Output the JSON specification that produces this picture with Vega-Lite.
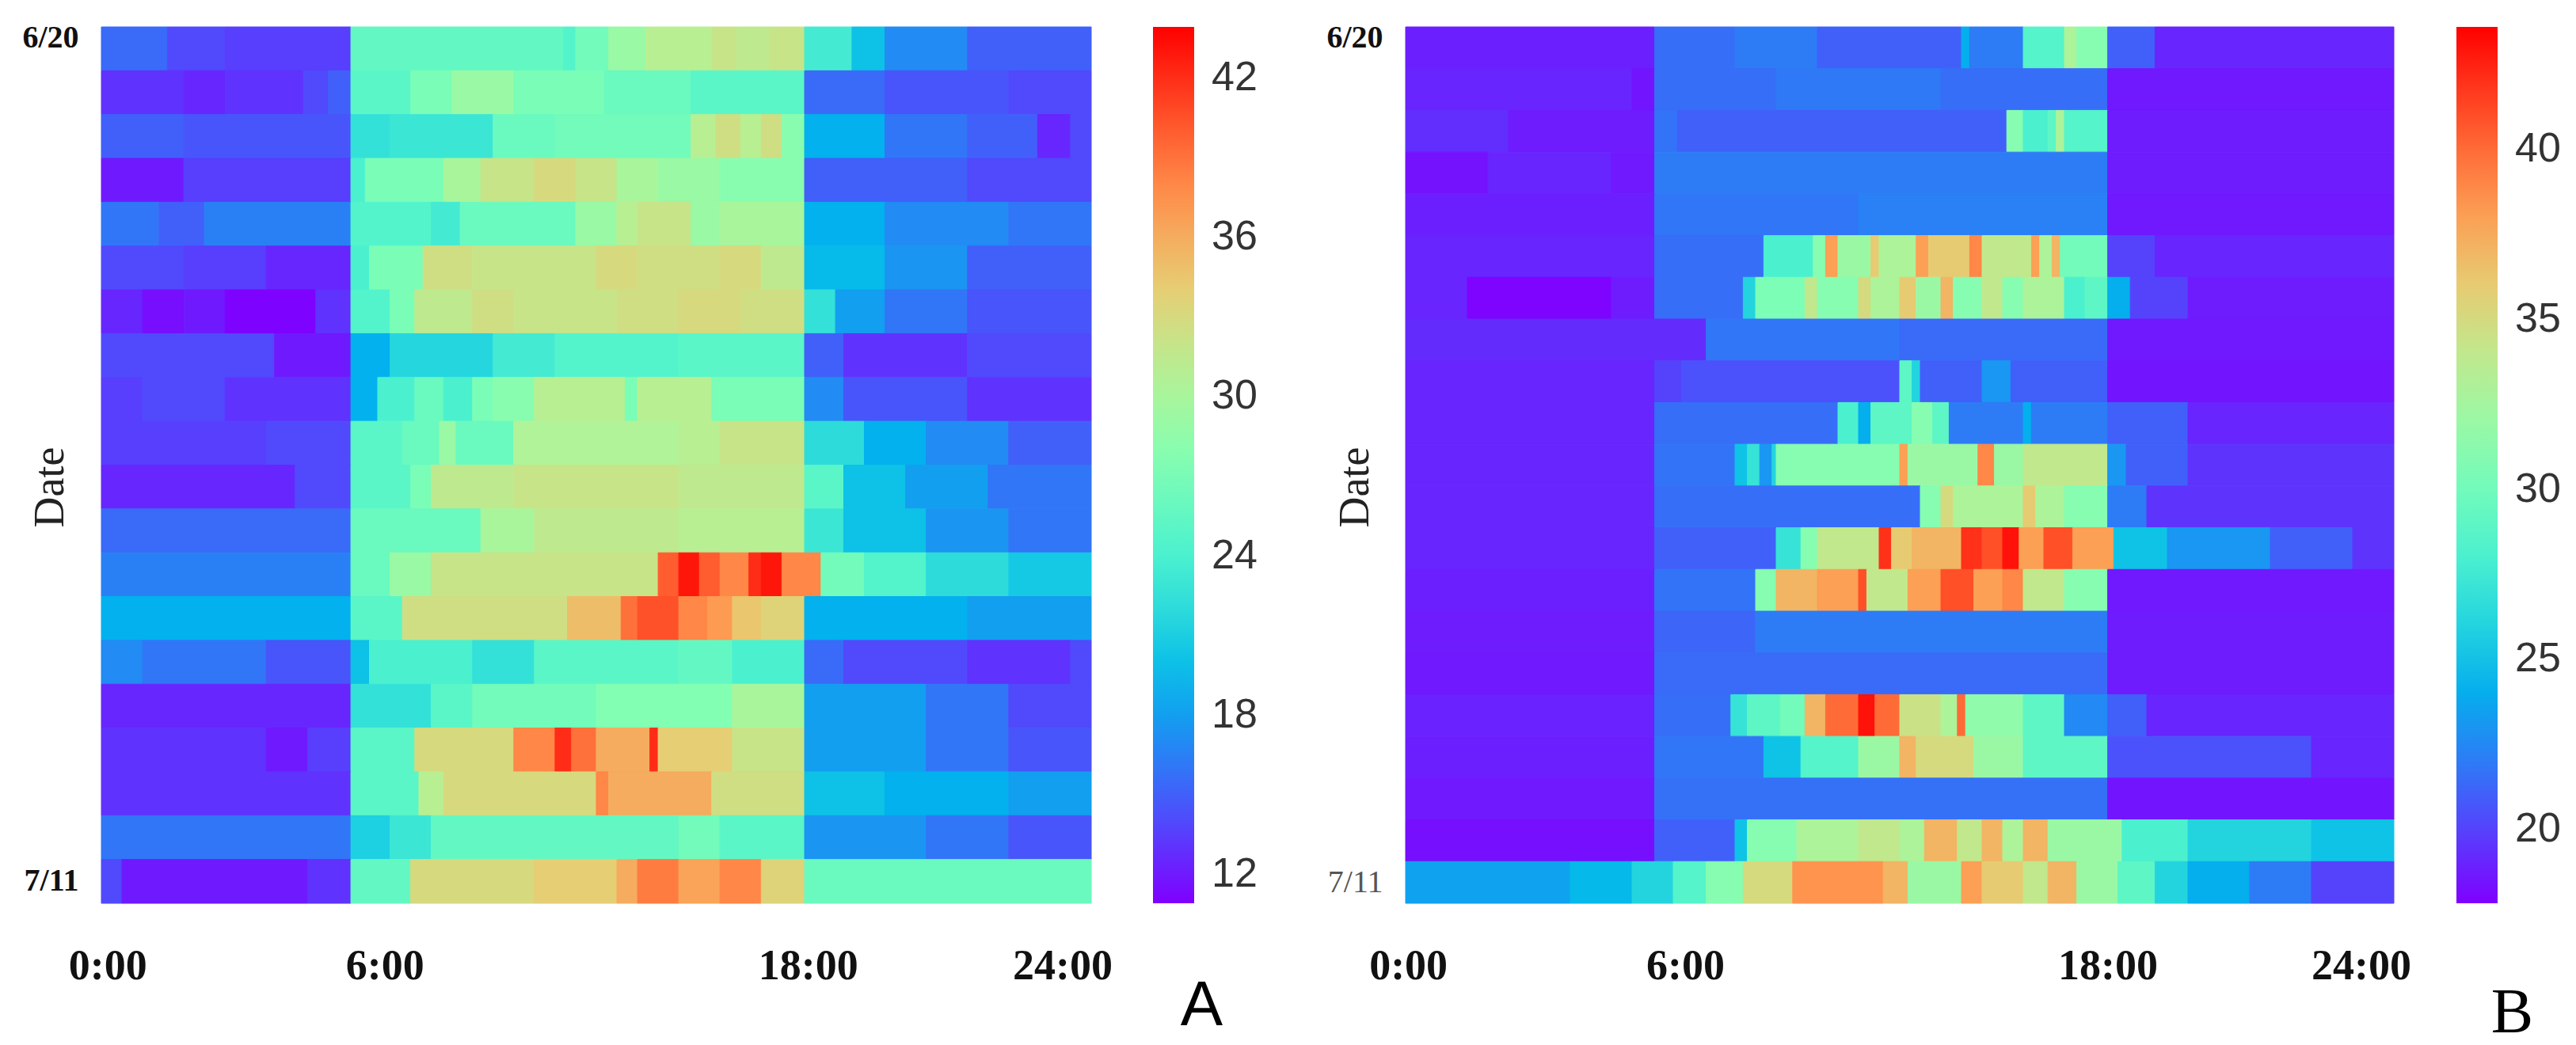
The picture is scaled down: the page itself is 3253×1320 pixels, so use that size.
{"$schema":"https://vega.github.io/schema/vega-lite/v6.json","background":"white","padding":{"left":27,"top":27,"right":0,"bottom":0},"spacing":86,"resolve":{"scale":{"color":"independent","x":"independent","y":"independent"}},"config":{"view":{"stroke":null}},"hconcat":[{"width":1250,"height":1107,"title":{"text":"A","orient":"bottom","anchor":"end","frame":"group","font":"Liberation Sans","fontSize":80,"fontWeight":"normal","dx":166,"offset":-15},"data":{"values":[
{"d":1,"s":0,"e":1.6,"t":15.5},{"d":1,"s":1.6,"e":3,"t":14},{"d":1,"s":3,"e":6.05,"t":13.5},{"d":1,"s":6.05,"e":11.2,"t":25.5},{"d":1,"s":11.2,"e":11.5,"t":24.5},{"d":1,"s":11.5,"e":12.3,"t":26.5},{"d":1,"s":12.3,"e":13.2,"t":29},{"d":1,"s":13.2,"e":14.8,"t":31},{"d":1,"s":14.8,"e":15.4,"t":32},{"d":1,"s":15.4,"e":16.2,"t":31.5},{"d":1,"s":16.2,"e":17.05,"t":32},{"d":1,"s":17.05,"e":18.2,"t":23.5},{"d":1,"s":18.2,"e":19,"t":20},{"d":1,"s":19,"e":21,"t":17},{"d":1,"s":21,"e":24,"t":15},
{"d":2,"s":0,"e":2,"t":13},{"d":2,"s":2,"e":3,"t":12.5},{"d":2,"s":3,"e":4.9,"t":13},{"d":2,"s":4.9,"e":5.5,"t":14},{"d":2,"s":5.5,"e":6.05,"t":15},{"d":2,"s":6.05,"e":7.5,"t":25},{"d":2,"s":7.5,"e":8.5,"t":27},{"d":2,"s":8.5,"e":10,"t":29},{"d":2,"s":10,"e":12.2,"t":27},{"d":2,"s":12.2,"e":14.3,"t":26},{"d":2,"s":14.3,"e":17.05,"t":25},{"d":2,"s":17.05,"e":19,"t":15.5},{"d":2,"s":19,"e":22,"t":14.5},{"d":2,"s":22,"e":24,"t":14},
{"d":3,"s":0,"e":2,"t":15},{"d":3,"s":2,"e":6.05,"t":14.5},{"d":3,"s":6.05,"e":7,"t":22.5},{"d":3,"s":7,"e":9.5,"t":23},{"d":3,"s":9.5,"e":11,"t":26},{"d":3,"s":11,"e":14.3,"t":26.5},{"d":3,"s":14.3,"e":14.9,"t":31},{"d":3,"s":14.9,"e":15.5,"t":32.5},{"d":3,"s":15.5,"e":16,"t":31},{"d":3,"s":16,"e":16.5,"t":32.5},{"d":3,"s":16.5,"e":17.05,"t":28},{"d":3,"s":17.05,"e":19,"t":19},{"d":3,"s":19,"e":21,"t":16},{"d":3,"s":21,"e":22.7,"t":15},{"d":3,"s":22.7,"e":23.5,"t":12.5},{"d":3,"s":23.5,"e":24,"t":14},
{"d":4,"s":0,"e":2,"t":12},{"d":4,"s":2,"e":6.05,"t":13.5},{"d":4,"s":6.05,"e":6.4,"t":24},{"d":4,"s":6.4,"e":8.3,"t":27},{"d":4,"s":8.3,"e":9.2,"t":30},{"d":4,"s":9.2,"e":10.5,"t":32},{"d":4,"s":10.5,"e":11.5,"t":33},{"d":4,"s":11.5,"e":12.5,"t":32},{"d":4,"s":12.5,"e":13.5,"t":30},{"d":4,"s":13.5,"e":15,"t":29},{"d":4,"s":15,"e":17.05,"t":28},{"d":4,"s":17.05,"e":21,"t":15},{"d":4,"s":21,"e":24,"t":14},
{"d":5,"s":0,"e":1.4,"t":16},{"d":5,"s":1.4,"e":2.5,"t":15},{"d":5,"s":2.5,"e":6.05,"t":16.5},{"d":5,"s":6.05,"e":8,"t":24.5},{"d":5,"s":8,"e":8.7,"t":23.5},{"d":5,"s":8.7,"e":11.5,"t":26},{"d":5,"s":11.5,"e":12.5,"t":29},{"d":5,"s":12.5,"e":13,"t":31},{"d":5,"s":13,"e":14.3,"t":32},{"d":5,"s":14.3,"e":15,"t":29},{"d":5,"s":15,"e":17.05,"t":30},{"d":5,"s":17.05,"e":19,"t":19},{"d":5,"s":19,"e":22,"t":17},{"d":5,"s":22,"e":24,"t":16},
{"d":6,"s":0,"e":2,"t":14},{"d":6,"s":2,"e":4,"t":13.5},{"d":6,"s":4,"e":6.05,"t":12.5},{"d":6,"s":6.05,"e":6.5,"t":24},{"d":6,"s":6.5,"e":7.8,"t":27},{"d":6,"s":7.8,"e":9,"t":32.5},{"d":6,"s":9,"e":12,"t":32},{"d":6,"s":12,"e":13,"t":33},{"d":6,"s":13,"e":15,"t":32.5},{"d":6,"s":15,"e":16,"t":33},{"d":6,"s":16,"e":17.05,"t":31.5},{"d":6,"s":17.05,"e":19,"t":19.5},{"d":6,"s":19,"e":21,"t":17.5},{"d":6,"s":21,"e":24,"t":15},
{"d":7,"s":0,"e":1,"t":12.5},{"d":7,"s":1,"e":2,"t":11.5},{"d":7,"s":2,"e":3,"t":12},{"d":7,"s":3,"e":5.2,"t":11},{"d":7,"s":5.2,"e":6.05,"t":13},{"d":7,"s":6.05,"e":7,"t":24.5},{"d":7,"s":7,"e":7.6,"t":27},{"d":7,"s":7.6,"e":9,"t":31.5},{"d":7,"s":9,"e":10,"t":32.5},{"d":7,"s":10,"e":12.5,"t":32},{"d":7,"s":12.5,"e":14,"t":32.5},{"d":7,"s":14,"e":15.5,"t":33},{"d":7,"s":15.5,"e":17.05,"t":32.5},{"d":7,"s":17.05,"e":17.8,"t":22.5},{"d":7,"s":17.8,"e":19,"t":18},{"d":7,"s":19,"e":21,"t":16},{"d":7,"s":21,"e":24,"t":14.5},
{"d":8,"s":0,"e":4.2,"t":14},{"d":8,"s":4.2,"e":6.05,"t":12},{"d":8,"s":6.05,"e":7,"t":19},{"d":8,"s":7,"e":9.5,"t":21.5},{"d":8,"s":9.5,"e":11,"t":23.5},{"d":8,"s":11,"e":14,"t":24.5},{"d":8,"s":14,"e":17.05,"t":25},{"d":8,"s":17.05,"e":18,"t":15},{"d":8,"s":18,"e":21,"t":13},{"d":8,"s":21,"e":24,"t":14},
{"d":9,"s":0,"e":1,"t":13.5},{"d":9,"s":1,"e":3,"t":14},{"d":9,"s":3,"e":6.05,"t":13},{"d":9,"s":6.05,"e":6.7,"t":19},{"d":9,"s":6.7,"e":7.6,"t":24},{"d":9,"s":7.6,"e":8.3,"t":26},{"d":9,"s":8.3,"e":9,"t":24},{"d":9,"s":9,"e":9.5,"t":27},{"d":9,"s":9.5,"e":10.5,"t":28},{"d":9,"s":10.5,"e":12.7,"t":31},{"d":9,"s":12.7,"e":13,"t":27},{"d":9,"s":13,"e":14.8,"t":31},{"d":9,"s":14.8,"e":17.05,"t":27},{"d":9,"s":17.05,"e":18,"t":17},{"d":9,"s":18,"e":21,"t":14.5},{"d":9,"s":21,"e":24,"t":13},
{"d":10,"s":0,"e":4,"t":13.5},{"d":10,"s":4,"e":6.05,"t":14},{"d":10,"s":6.05,"e":7.3,"t":25},{"d":10,"s":7.3,"e":8.2,"t":26},{"d":10,"s":8.2,"e":8.6,"t":29},{"d":10,"s":8.6,"e":10,"t":26},{"d":10,"s":10,"e":14,"t":30.5},{"d":10,"s":14,"e":15,"t":31},{"d":10,"s":15,"e":17.05,"t":32},{"d":10,"s":17.05,"e":18.5,"t":22},{"d":10,"s":18.5,"e":20,"t":19},{"d":10,"s":20,"e":22,"t":17},{"d":10,"s":22,"e":24,"t":15},
{"d":11,"s":0,"e":4.7,"t":12.5},{"d":11,"s":4.7,"e":6.05,"t":14},{"d":11,"s":6.05,"e":7.5,"t":25},{"d":11,"s":7.5,"e":8,"t":27},{"d":11,"s":8,"e":10,"t":31.5},{"d":11,"s":10,"e":14,"t":32},{"d":11,"s":14,"e":17.05,"t":31.5},{"d":11,"s":17.05,"e":18,"t":25},{"d":11,"s":18,"e":19.5,"t":20},{"d":11,"s":19.5,"e":21.5,"t":18},{"d":11,"s":21.5,"e":24,"t":16},
{"d":12,"s":0,"e":6.05,"t":15.5},{"d":12,"s":6.05,"e":9.2,"t":26},{"d":12,"s":9.2,"e":10.5,"t":30},{"d":12,"s":10.5,"e":14,"t":31.5},{"d":12,"s":14,"e":17.05,"t":31},{"d":12,"s":17.05,"e":18,"t":23},{"d":12,"s":18,"e":20,"t":20},{"d":12,"s":20,"e":22,"t":17.5},{"d":12,"s":22,"e":24,"t":16},
{"d":13,"s":0,"e":6.05,"t":16.5},{"d":13,"s":6.05,"e":7,"t":26},{"d":13,"s":7,"e":8,"t":29},{"d":13,"s":8,"e":13.5,"t":32},{"d":13,"s":13.5,"e":14,"t":40},{"d":13,"s":14,"e":14.5,"t":43},{"d":13,"s":14.5,"e":15,"t":40},{"d":13,"s":15,"e":15.7,"t":38},{"d":13,"s":15.7,"e":16,"t":42},{"d":13,"s":16,"e":16.5,"t":43},{"d":13,"s":16.5,"e":17.45,"t":38},{"d":13,"s":17.45,"e":18.5,"t":26.5},{"d":13,"s":18.5,"e":20,"t":24.5},{"d":13,"s":20,"e":22,"t":22},{"d":13,"s":22,"e":24,"t":20.5},
{"d":14,"s":0,"e":6.05,"t":19},{"d":14,"s":6.05,"e":7.3,"t":25},{"d":14,"s":7.3,"e":11.3,"t":32.5},{"d":14,"s":11.3,"e":12.6,"t":35},{"d":14,"s":12.6,"e":13,"t":39},{"d":14,"s":13,"e":14,"t":40.5},{"d":14,"s":14,"e":14.7,"t":38},{"d":14,"s":14.7,"e":15.3,"t":37},{"d":14,"s":15.3,"e":16,"t":34.5},{"d":14,"s":16,"e":17.05,"t":33.5},{"d":14,"s":17.05,"e":21,"t":19},{"d":14,"s":21,"e":24,"t":18},
{"d":15,"s":0,"e":1,"t":17},{"d":15,"s":1,"e":4,"t":16},{"d":15,"s":4,"e":6.05,"t":14.5},{"d":15,"s":6.05,"e":6.5,"t":20},{"d":15,"s":6.5,"e":9,"t":24},{"d":15,"s":9,"e":10.5,"t":22.5},{"d":15,"s":10.5,"e":14,"t":25},{"d":15,"s":14,"e":15.3,"t":25.5},{"d":15,"s":15.3,"e":17.05,"t":24},{"d":15,"s":17.05,"e":18,"t":15.5},{"d":15,"s":18,"e":21,"t":14},{"d":15,"s":21,"e":23.5,"t":13},{"d":15,"s":23.5,"e":24,"t":14},
{"d":16,"s":0,"e":6.05,"t":12.5},{"d":16,"s":6.05,"e":8,"t":22.5},{"d":16,"s":8,"e":9,"t":25},{"d":16,"s":9,"e":12,"t":26.5},{"d":16,"s":12,"e":15.3,"t":27.5},{"d":16,"s":15.3,"e":17.05,"t":30},{"d":16,"s":17.05,"e":20,"t":18},{"d":16,"s":20,"e":22,"t":16},{"d":16,"s":22,"e":24,"t":14},
{"d":17,"s":0,"e":4,"t":13},{"d":17,"s":4,"e":5,"t":12},{"d":17,"s":5,"e":6.05,"t":13.5},{"d":17,"s":6.05,"e":7.6,"t":25},{"d":17,"s":7.6,"e":10,"t":33},{"d":17,"s":10,"e":11,"t":38},{"d":17,"s":11,"e":11.4,"t":42},{"d":17,"s":11.4,"e":12,"t":39},{"d":17,"s":12,"e":13.3,"t":36},{"d":17,"s":13.3,"e":13.5,"t":42},{"d":17,"s":13.5,"e":15.3,"t":34},{"d":17,"s":15.3,"e":17.05,"t":32},{"d":17,"s":17.05,"e":20,"t":18},{"d":17,"s":20,"e":22,"t":16},{"d":17,"s":22,"e":24,"t":14.5},
{"d":18,"s":0,"e":6.05,"t":13},{"d":18,"s":6.05,"e":7.7,"t":25},{"d":18,"s":7.7,"e":8.3,"t":31},{"d":18,"s":8.3,"e":12,"t":33},{"d":18,"s":12,"e":12.3,"t":38},{"d":18,"s":12.3,"e":14.8,"t":36},{"d":18,"s":14.8,"e":17.05,"t":32.5},{"d":18,"s":17.05,"e":19,"t":20},{"d":18,"s":19,"e":22,"t":19},{"d":18,"s":22,"e":24,"t":18},
{"d":19,"s":0,"e":6.05,"t":16},{"d":19,"s":6.05,"e":7,"t":21},{"d":19,"s":7,"e":8,"t":23},{"d":19,"s":8,"e":14,"t":25.5},{"d":19,"s":14,"e":15,"t":26.5},{"d":19,"s":15,"e":17.05,"t":25},{"d":19,"s":17.05,"e":20,"t":17.5},{"d":19,"s":20,"e":22,"t":16},{"d":19,"s":22,"e":24,"t":14.5},
{"d":20,"s":0,"e":0.5,"t":14},{"d":20,"s":0.5,"e":5,"t":12},{"d":20,"s":5,"e":6.05,"t":13},{"d":20,"s":6.05,"e":7.5,"t":25.5},{"d":20,"s":7.5,"e":10.5,"t":33},{"d":20,"s":10.5,"e":12.5,"t":34},{"d":20,"s":12.5,"e":13,"t":36},{"d":20,"s":13,"e":14,"t":38.5},{"d":20,"s":14,"e":15,"t":36.5},{"d":20,"s":15,"e":16,"t":38},{"d":20,"s":16,"e":17.05,"t":33.5},{"d":20,"s":17.05,"e":24,"t":26}
]},"mark":{"type":"rect","strokeWidth":1,"stroke":{"expr":"scale('concat_0_color',datum.t)"}},"encoding":{"x":{"field":"s","type":"quantitative","scale":{"domain":[0,24],"nice":false,"zero":false},"axis":{"title":null,"values":[0.15,6.87,17.13,23.3],"labelExpr":"datum.value<1?'0:00':datum.value<10?'6:00':datum.value<20?'18:00':'24:00'","labelFont":"Liberation Serif","labelFontWeight":"bold","labelFontSize":54,"labelPadding":52,"labelColor":"#111","domain":false,"ticks":false,"grid":false,"labelFlush":false,"labelBound":false,"labelOverlap":false}},"x2":{"field":"e"},"y":{"field":"d","type":"ordinal","scale":{"domain":[1,2,3,4,5,6,7,8,9,10,11,12,13,14,15,16,17,18,19,20],"paddingInner":0,"paddingOuter":0},"axis":{"title":"Date","titleFont":"Liberation Serif","titleFontWeight":"normal","titleFontSize":54,"titleColor":"#222","titleX":-38,"titleY":581,"values":[1,20],"labelExpr":"datum.value==1?'6/20':'7/11'","labelFont":"Liberation Serif","labelFontWeight":"bold","labelFontSize":40,"labelColor":"#111","labelPadding":29,"labelAngle":0,"labelOffset":{"condition":{"test":"datum.value==1","value":-14},"value":0},"domain":false,"ticks":false,"grid":false}},"color":{"field":"t","type":"quantitative","scale":{"interpolate":"rgb","domain":[10.9,14.2,17.5,19.15,20.8,24.1,27.4,30.7,34,37.3,40.6,43.9],"range":["#8000ff","#4d4ffc","#1a96f2","#00b4ec","#1acee3","#4df2ce","#80ffb4","#b3f296","#e6ce74","#ff964f","#ff4f28","#ff0000"]},"legend":{"title":null,"orient":"none","legendX":1328,"legendY":0,"direction":"vertical","type":"gradient","gradientLength":1107,"gradientThickness":52,"values":[12,18,24,30,36,42],"labelFont":"Liberation Sans","labelFontSize":52,"labelColor":"#333","labelOffset":22,"labelOverlap":false}}}},{"width":1248,"height":1107,"title":{"text":"B","orient":"bottom","anchor":"end","frame":"group","font":"Liberation Serif","fontSize":80,"fontWeight":"normal","dx":176,"offset":-6},"data":{"values":[
{"d":1,"s":0,"e":6.05,"t":18.8},{"d":1,"s":6.05,"e":8,"t":21.5},{"d":1,"s":8,"e":10,"t":22},{"d":1,"s":10,"e":13.5,"t":21},{"d":1,"s":13.5,"e":13.7,"t":24},{"d":1,"s":13.7,"e":15,"t":22},{"d":1,"s":15,"e":16,"t":28.5},{"d":1,"s":16,"e":16.3,"t":33},{"d":1,"s":16.3,"e":17.05,"t":31},{"d":1,"s":17.05,"e":18.2,"t":21},{"d":1,"s":18.2,"e":24,"t":19},
{"d":2,"s":0,"e":5.5,"t":19},{"d":2,"s":5.5,"e":6.05,"t":18.5},{"d":2,"s":6.05,"e":9,"t":21.5},{"d":2,"s":9,"e":13,"t":21.9},{"d":2,"s":13,"e":17.05,"t":21.5},{"d":2,"s":17.05,"e":24,"t":18.6},
{"d":3,"s":0,"e":2.5,"t":19.3},{"d":3,"s":2.5,"e":6.05,"t":18.7},{"d":3,"s":6.05,"e":6.6,"t":21.7},{"d":3,"s":6.6,"e":14.6,"t":21},{"d":3,"s":14.6,"e":15,"t":31},{"d":3,"s":15,"e":15.6,"t":28},{"d":3,"s":15.6,"e":15.8,"t":29},{"d":3,"s":15.8,"e":16,"t":33},{"d":3,"s":16,"e":17.05,"t":28.5},{"d":3,"s":17.05,"e":24,"t":18.7},
{"d":4,"s":0,"e":2,"t":18.4},{"d":4,"s":2,"e":5,"t":19},{"d":4,"s":5,"e":6.05,"t":18.6},{"d":4,"s":6.05,"e":17.05,"t":22},{"d":4,"s":17.05,"e":24,"t":18.7},
{"d":5,"s":0,"e":6.05,"t":18.8},{"d":5,"s":6.05,"e":11,"t":21.8},{"d":5,"s":11,"e":17.05,"t":22.2},{"d":5,"s":17.05,"e":24,"t":18.6},
{"d":6,"s":0,"e":6.05,"t":19},{"d":6,"s":6.05,"e":8.7,"t":21.5},{"d":6,"s":8.7,"e":9.9,"t":28},{"d":6,"s":9.9,"e":10.2,"t":31},{"d":6,"s":10.2,"e":10.5,"t":38},{"d":6,"s":10.5,"e":11.3,"t":32},{"d":6,"s":11.3,"e":11.5,"t":36},{"d":6,"s":11.5,"e":12.4,"t":33},{"d":6,"s":12.4,"e":12.7,"t":38},{"d":6,"s":12.7,"e":13.7,"t":36},{"d":6,"s":13.7,"e":14,"t":39},{"d":6,"s":14,"e":15.2,"t":34},{"d":6,"s":15.2,"e":15.4,"t":38},{"d":6,"s":15.4,"e":15.7,"t":33},{"d":6,"s":15.7,"e":15.9,"t":37},{"d":6,"s":15.9,"e":17.05,"t":30},{"d":6,"s":17.05,"e":18.2,"t":20},{"d":6,"s":18.2,"e":24,"t":19},
{"d":7,"s":0,"e":1.5,"t":19},{"d":7,"s":1.5,"e":5,"t":17.9},{"d":7,"s":5,"e":6.05,"t":18.7},{"d":7,"s":6.05,"e":8.2,"t":21.5},{"d":7,"s":8.2,"e":8.5,"t":26},{"d":7,"s":8.5,"e":9.7,"t":30.5},{"d":7,"s":9.7,"e":10,"t":34},{"d":7,"s":10,"e":11,"t":31},{"d":7,"s":11,"e":11.3,"t":35},{"d":7,"s":11.3,"e":12,"t":33},{"d":7,"s":12,"e":12.4,"t":36},{"d":7,"s":12.4,"e":13,"t":32},{"d":7,"s":13,"e":13.3,"t":37},{"d":7,"s":13.3,"e":14,"t":31},{"d":7,"s":14,"e":14.5,"t":34},{"d":7,"s":14.5,"e":15,"t":31},{"d":7,"s":15,"e":16,"t":33},{"d":7,"s":16,"e":16.5,"t":28},{"d":7,"s":16.5,"e":17.05,"t":29},{"d":7,"s":17.05,"e":17.6,"t":24},{"d":7,"s":17.6,"e":19,"t":20},{"d":7,"s":19,"e":24,"t":18.7},
{"d":8,"s":0,"e":7.3,"t":19.2},{"d":8,"s":7.3,"e":12,"t":21.8},{"d":8,"s":12,"e":17.05,"t":21.4},{"d":8,"s":17.05,"e":24,"t":18.6},
{"d":9,"s":0,"e":6.05,"t":19},{"d":9,"s":6.05,"e":6.7,"t":20},{"d":9,"s":6.7,"e":12,"t":20.5},{"d":9,"s":12,"e":12.3,"t":29},{"d":9,"s":12.3,"e":12.5,"t":26},{"d":9,"s":12.5,"e":14,"t":21},{"d":9,"s":14,"e":14.7,"t":23},{"d":9,"s":14.7,"e":17.05,"t":21},{"d":9,"s":17.05,"e":24,"t":18.5},
{"d":10,"s":0,"e":6.05,"t":19},{"d":10,"s":6.05,"e":10.5,"t":21.5},{"d":10,"s":10.5,"e":11,"t":28},{"d":10,"s":11,"e":11.3,"t":24},{"d":10,"s":11.3,"e":12.3,"t":29},{"d":10,"s":12.3,"e":12.8,"t":31},{"d":10,"s":12.8,"e":13.2,"t":29},{"d":10,"s":13.2,"e":15,"t":22},{"d":10,"s":15,"e":15.2,"t":24},{"d":10,"s":15.2,"e":17.05,"t":22},{"d":10,"s":17.05,"e":19,"t":21},{"d":10,"s":19,"e":24,"t":19},
{"d":11,"s":0,"e":6.05,"t":19},{"d":11,"s":6.05,"e":8,"t":21.7},{"d":11,"s":8,"e":8.3,"t":25},{"d":11,"s":8.3,"e":8.6,"t":27},{"d":11,"s":8.6,"e":8.9,"t":23},{"d":11,"s":8.9,"e":9,"t":26},{"d":11,"s":9,"e":12,"t":31},{"d":11,"s":12,"e":12.2,"t":38},{"d":11,"s":12.2,"e":13.9,"t":32},{"d":11,"s":13.9,"e":14.3,"t":39},{"d":11,"s":14.3,"e":15,"t":32},{"d":11,"s":15,"e":17.05,"t":34},{"d":11,"s":17.05,"e":17.5,"t":23},{"d":11,"s":17.5,"e":19,"t":21},{"d":11,"s":19,"e":24,"t":19.5},
{"d":12,"s":0,"e":6.05,"t":19},{"d":12,"s":6.05,"e":12.5,"t":21.5},{"d":12,"s":12.5,"e":13,"t":31},{"d":12,"s":13,"e":13.3,"t":35},{"d":12,"s":13.3,"e":15,"t":33},{"d":12,"s":15,"e":15.3,"t":36},{"d":12,"s":15.3,"e":16,"t":33},{"d":12,"s":16,"e":17.05,"t":31},{"d":12,"s":17.05,"e":18,"t":22},{"d":12,"s":18,"e":24,"t":19.5},
{"d":13,"s":0,"e":6.05,"t":19},{"d":13,"s":6.05,"e":9,"t":21},{"d":13,"s":9,"e":9.6,"t":27},{"d":13,"s":9.6,"e":10,"t":31},{"d":13,"s":10,"e":11.5,"t":34},{"d":13,"s":11.5,"e":11.8,"t":42},{"d":13,"s":11.8,"e":12.3,"t":36},{"d":13,"s":12.3,"e":13.5,"t":37},{"d":13,"s":13.5,"e":14,"t":42},{"d":13,"s":14,"e":14.5,"t":41},{"d":13,"s":14.5,"e":14.9,"t":43},{"d":13,"s":14.9,"e":15.5,"t":38},{"d":13,"s":15.5,"e":16.2,"t":41},{"d":13,"s":16.2,"e":17.2,"t":38},{"d":13,"s":17.2,"e":18.5,"t":25},{"d":13,"s":18.5,"e":21,"t":23},{"d":13,"s":21,"e":23,"t":21},{"d":13,"s":23,"e":24,"t":19.5},
{"d":14,"s":0,"e":6.05,"t":18.8},{"d":14,"s":6.05,"e":8.5,"t":21.7},{"d":14,"s":8.5,"e":9,"t":31},{"d":14,"s":9,"e":10,"t":37},{"d":14,"s":10,"e":11,"t":38},{"d":14,"s":11,"e":11.2,"t":41},{"d":14,"s":11.2,"e":12.2,"t":34},{"d":14,"s":12.2,"e":13,"t":38},{"d":14,"s":13,"e":13.8,"t":41},{"d":14,"s":13.8,"e":14.5,"t":38},{"d":14,"s":14.5,"e":15,"t":39},{"d":14,"s":15,"e":16,"t":34},{"d":14,"s":16,"e":17.05,"t":31},{"d":14,"s":17.05,"e":24,"t":18.6},
{"d":15,"s":0,"e":6.05,"t":18.7},{"d":15,"s":6.05,"e":8.5,"t":21.2},{"d":15,"s":8.5,"e":17.05,"t":22},{"d":15,"s":17.05,"e":24,"t":18.7},
{"d":16,"s":0,"e":6.05,"t":18.6},{"d":16,"s":6.05,"e":17.05,"t":21.4},{"d":16,"s":17.05,"e":24,"t":18.7},
{"d":17,"s":0,"e":6.05,"t":18.9},{"d":17,"s":6.05,"e":7.9,"t":21.5},{"d":17,"s":7.9,"e":8.3,"t":27},{"d":17,"s":8.3,"e":9.1,"t":29},{"d":17,"s":9.1,"e":9.7,"t":30},{"d":17,"s":9.7,"e":10.2,"t":37},{"d":17,"s":10.2,"e":11,"t":40},{"d":17,"s":11,"e":11.4,"t":43},{"d":17,"s":11.4,"e":12,"t":40},{"d":17,"s":12,"e":13,"t":34.5},{"d":17,"s":13,"e":13.4,"t":33},{"d":17,"s":13.4,"e":13.6,"t":40},{"d":17,"s":13.6,"e":15,"t":31.5},{"d":17,"s":15,"e":16,"t":29},{"d":17,"s":16,"e":17.05,"t":22.5},{"d":17,"s":17.05,"e":18,"t":21},{"d":17,"s":18,"e":24,"t":19},
{"d":18,"s":0,"e":6.05,"t":18.8},{"d":18,"s":6.05,"e":8.7,"t":21.8},{"d":18,"s":8.7,"e":9.6,"t":25},{"d":18,"s":9.6,"e":11,"t":28.5},{"d":18,"s":11,"e":12,"t":32},{"d":18,"s":12,"e":12.4,"t":37},{"d":18,"s":12.4,"e":13.8,"t":35},{"d":18,"s":13.8,"e":15,"t":32},{"d":18,"s":15,"e":17.05,"t":29},{"d":18,"s":17.05,"e":22,"t":20.5},{"d":18,"s":22,"e":24,"t":19},
{"d":19,"s":0,"e":6.05,"t":18.6},{"d":19,"s":6.05,"e":17.05,"t":21.6},{"d":19,"s":17.05,"e":24,"t":18.5},
{"d":20,"s":0,"e":6.05,"t":18.3},{"d":20,"s":6.05,"e":8,"t":21},{"d":20,"s":8,"e":8.3,"t":25},{"d":20,"s":8.3,"e":9.5,"t":31},{"d":20,"s":9.5,"e":11,"t":33},{"d":20,"s":11,"e":12,"t":34},{"d":20,"s":12,"e":12.6,"t":33},{"d":20,"s":12.6,"e":13.4,"t":37},{"d":20,"s":13.4,"e":14,"t":34},{"d":20,"s":14,"e":14.5,"t":37},{"d":20,"s":14.5,"e":15,"t":33},{"d":20,"s":15,"e":15.6,"t":37},{"d":20,"s":15.6,"e":17.4,"t":32},{"d":20,"s":17.4,"e":19,"t":28},{"d":20,"s":19,"e":22,"t":26},{"d":20,"s":22,"e":24,"t":25},
{"d":21,"s":0,"e":4,"t":23.5},{"d":21,"s":4,"e":5.5,"t":24.5},{"d":21,"s":5.5,"e":6.5,"t":26},{"d":21,"s":6.5,"e":7.3,"t":28.5},{"d":21,"s":7.3,"e":8.2,"t":31},{"d":21,"s":8.2,"e":9.4,"t":35},{"d":21,"s":9.4,"e":11.6,"t":38.5},{"d":21,"s":11.6,"e":12.2,"t":37},{"d":21,"s":12.2,"e":13.5,"t":32},{"d":21,"s":13.5,"e":14,"t":38},{"d":21,"s":14,"e":15,"t":36},{"d":21,"s":15,"e":15.6,"t":34},{"d":21,"s":15.6,"e":16.3,"t":37},{"d":21,"s":16.3,"e":17.3,"t":32},{"d":21,"s":17.3,"e":18.2,"t":29},{"d":21,"s":18.2,"e":19,"t":26},{"d":21,"s":19,"e":20.5,"t":24},{"d":21,"s":20.5,"e":22,"t":22},{"d":21,"s":22,"e":24,"t":20}
]},"mark":{"type":"rect","strokeWidth":1,"stroke":{"expr":"scale('concat_1_color',datum.t)"}},"encoding":{"x":{"field":"s","type":"quantitative","scale":{"domain":[0,24],"nice":false,"zero":false},"axis":{"title":null,"values":[0.06,6.79,17.05,23.2],"labelExpr":"datum.value<1?'0:00':datum.value<10?'6:00':datum.value<20?'18:00':'24:00'","labelFont":"Liberation Serif","labelFontWeight":"bold","labelFontSize":54,"labelPadding":52,"labelColor":"#111","domain":false,"ticks":false,"grid":false,"labelFlush":false,"labelBound":false,"labelOverlap":false}},"x2":{"field":"e"},"y":{"field":"d","type":"ordinal","scale":{"domain":[1,2,3,4,5,6,7,8,9,10,11,12,13,14,15,16,17,18,19,20,21],"paddingInner":0,"paddingOuter":0},"axis":{"title":"Date","titleFont":"Liberation Serif","titleFontWeight":"normal","titleFontSize":54,"titleColor":"#222","titleX":-37,"titleY":581,"values":[1,21],"labelExpr":"datum.value==1?'6/20':'7/11'","labelFont":"Liberation Serif","labelFontWeight":{"condition":{"test":"datum.value==1","value":"bold"},"value":"normal"},"labelFontSize":40,"labelColor":{"condition":{"test":"datum.value==1","value":"#111"},"value":"#555"},"labelPadding":29,"labelAngle":0,"labelOffset":{"condition":{"test":"datum.value==1","value":-12},"value":0},"domain":false,"ticks":false,"grid":false}},"color":{"field":"t","type":"quantitative","scale":{"interpolate":"rgb","domain":[17.8,20.38,22.96,24.25,25.54,28.12,30.7,33.28,35.86,38.44,41.02,43.6],"range":["#8000ff","#4d4ffc","#1a96f2","#00b4ec","#1acee3","#4df2ce","#80ffb4","#b3f296","#e6ce74","#ff964f","#ff4f28","#ff0000"]},"legend":{"title":null,"orient":"none","legendX":1327,"legendY":0,"direction":"vertical","type":"gradient","gradientLength":1107,"gradientThickness":52,"values":[20,25,30,35,40],"labelFont":"Liberation Sans","labelFontSize":52,"labelColor":"#333","labelOffset":22,"labelOverlap":false}}}}]}
